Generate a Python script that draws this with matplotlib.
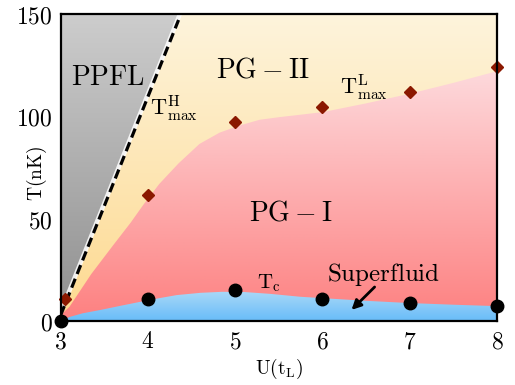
import numpy as np
import matplotlib
matplotlib.use('Agg')
import matplotlib.pyplot as plt
from matplotlib.patches import Polygon
from matplotlib.colors import to_rgba

plt.rcParams['mathtext.fontset'] = 'cm'

# T_max data (diamonds) and T_c data (circles)
U_tmax = [3.05, 4, 5, 6, 7, 8]
T_tmax = [11, 61.5, 97, 104.5, 112, 124]
U_tc = [3, 4, 5, 6, 7, 8]
T_tc = [0, 11, 15, 11, 9, 7.5]

# upper edge of the PG-I region (T_max^L crossover)
U_pg1 = [3.0, 3.1, 3.35, 3.6, 3.8, 3.95, 4.13, 4.35, 4.59, 4.82, 5.05, 5.28,
         5.51, 6.0, 6.5, 7.0, 7.5, 8.0]
T_pg1 = [3, 7, 23, 37, 48, 57, 67, 77, 86.5, 92, 95.5, 98.3,
         99.6, 102, 106.3, 111, 116.3, 122]

# upper edge of the superfluid region (T_c)
U_sf = [3.0, 3.1, 3.25, 3.45, 3.7, 3.91, 4.13, 4.33, 4.6, 4.85, 5.1, 5.4,
        5.74, 6.0, 6.5, 7.0, 7.5, 8.0]
T_sf = [0, 2, 3.8, 5.4, 7.6, 9.4, 11.2, 12.7, 13.8, 14.3, 14.2, 13.3,
        11.9, 11.2, 9.9, 8.8, 8.0, 7.3]

# T_max^H crossover (dashed line)
U_hmax = [3.0, 4.35]
T_hmax = [3, 147]

xticks = [3, 4, 5, 6, 7, 8]
yticks = [0, 50, 100, 150]

fig = plt.figure(figsize=(5.15, 3.85), dpi=100)
ax = fig.add_axes([0.118, 0.166, 0.847, 0.798])


def grad_fill(poly_xy, c_top, c_bot, t_top, t_bot, z):
    patch = Polygon(poly_xy, closed=True, facecolor='none', edgecolor='none')
    ax.add_patch(patch)
    n = 256
    top = np.array(to_rgba(c_top))
    bot = np.array(to_rgba(c_bot))
    f = np.linspace(0, 1, n)[:, None]
    img = (bot + (top - bot) * f)[:, None, :]
    im = ax.imshow(img, extent=[3, 8, t_bot, t_top], origin='lower',
                   aspect='auto', zorder=z, interpolation='bilinear')
    im.set_clip_path(patch)


# background: PG-II (yellow)
grad_fill([(3, 0), (8, 0), (8, 150), (3, 150)], '#fef4dc', '#fdd98f', 150, 0, 1)

# PPFL (gray) left of the dashed line
slope = (T_hmax[1] - T_hmax[0]) / (U_hmax[1] - U_hmax[0])
u_top = U_hmax[0] + (150 - T_hmax[0]) / slope
grad_fill([(3, 0), (3, 150), (u_top, 150), (U_hmax[0], T_hmax[0])],
          '#cdcdcd', '#8f8f8f', 150, 0, 2)

# PG-I (pink)
grad_fill(list(zip(U_pg1, T_pg1)) + [(8, 0), (3, 0)],
          '#fdd9dc', '#fd8080', 122, 0, 3)

# superfluid (blue)
grad_fill(list(zip(U_sf, T_sf)) + [(8, 0), (3, 0)],
          '#abd9f7', '#68bcf9', 15, 0, 4)

# dashed T_max^H line
ax.plot([U_hmax[0] - 0.012, u_top - 0.012], [T_hmax[0], 150], color='white',
        lw=3.2, alpha=0.85, zorder=5)
ax.plot(U_hmax, T_hmax, color='black', lw=2.3, linestyle=(0, (3, 1.6)), zorder=6)

ax.plot(U_tmax, T_tmax, 'D', color='#8b1800', ms=6.5, zorder=7, clip_on=False)
ax.plot(U_tc, T_tc, 'o', color='black', ms=9, zorder=7, clip_on=False)

ax.text(3.54, 119, r'$\mathrm{PPFL}$', fontsize=20, ha='center', va='center', zorder=8)
ax.text(5.31, 123, r'$\mathrm{PG-II}$', fontsize=20, ha='center', va='center', zorder=8)
ax.text(5.63, 53, r'$\mathrm{PG-I}$', fontsize=20, ha='center', va='center', zorder=8)
ax.text(4.30, 104, r'$\mathrm{T^{H}_{max}}$', fontsize=16, ha='center', va='center', zorder=8)
ax.text(6.47, 114.5, r'$\mathrm{T^{L}_{max}}$', fontsize=16, ha='center', va='center', zorder=8)
ax.text(5.39, 18.3, r'$\mathrm{T_c}$', fontsize=15, ha='center', va='center', zorder=8)
ax.text(6.70, 22.7, r'$\mathrm{Superfluid}$', fontsize=18, ha='center', va='center', zorder=8)
ax.annotate('', xy=(6.31, 4.5), xytext=(6.62, 17.6),
            arrowprops=dict(arrowstyle='-|>', color='black', lw=2, mutation_scale=14),
            zorder=8)

ax.set_xlim(3, 8)
ax.set_ylim(0, 150)
ax.set_xticks(xticks, labels=[f'${v}$' for v in xticks])
ax.set_yticks(yticks, labels=[f'${v}$' for v in yticks])
ax.tick_params(length=0, labelsize=17, pad=6)
for s in ax.spines.values():
    s.set_linewidth(1.6)
    s.set_zorder(9)

ax.set_xlabel(r'$\mathrm{U(t_L)}$', fontsize=14)
ax.set_ylabel(r'$\mathrm{T(nK)}$', fontsize=14)
ax.xaxis.set_label_coords(0.50, -0.117)
ax.yaxis.set_label_coords(-0.027, 0.48)

fig.savefig('out.png', dpi=100)
